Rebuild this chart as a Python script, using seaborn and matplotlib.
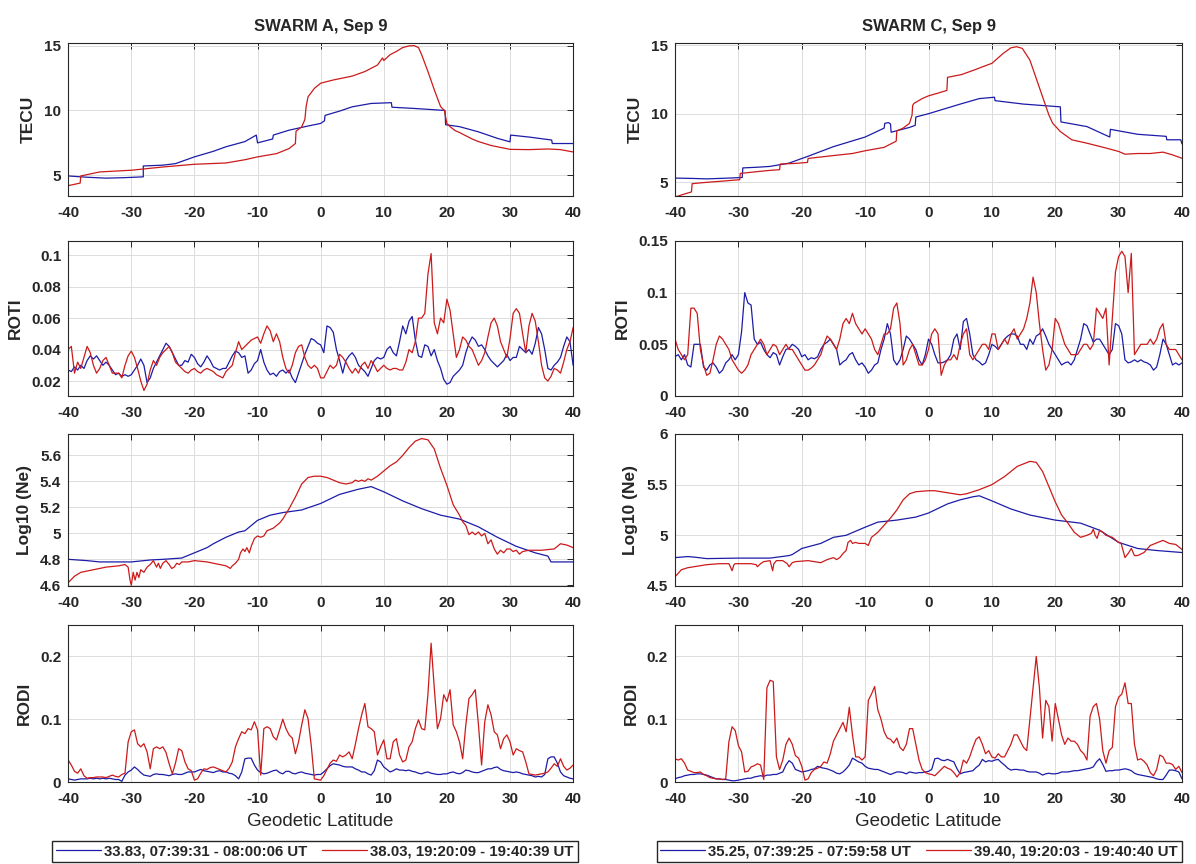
import numpy as np
import pandas as pd
import matplotlib
matplotlib.use("Agg")
import matplotlib.pyplot as plt
import seaborn as sns
from matplotlib.ticker import FuncFormatter

# ---------------------------------------------------------------- data
# common latitude grid for ROTI / RODI (0.5 deg steps)
grid_lat = np.arange(-40, 40.25, 0.5)

# --- TEC (SWARM A)
tec_a_blue_lat = [-40, -37, -34, -31, -28.1, -28.1, -25, -23, -20, -17, -15, -12,
                  -10.2, -10.0, -8.0, -7.6, -7.5, -5, -2, 0, 0.6, 0.7, 3, 5, 8,
                  11.2, 11.3, 15, 19.7, 19.8, 22, 25, 28, 30.0, 30.1, 33, 36.6, 36.7, 40]
tec_a_blue = [4.95, 4.85, 4.78, 4.82, 4.88, 5.72, 5.78, 5.9, 6.42, 6.85, 7.2, 7.6,
              8.1, 7.5, 7.75, 7.8, 8.1, 8.48, 8.8, 9.0, 9.2, 9.62, 9.95, 10.28, 10.54,
              10.6, 10.25, 10.15, 10.0, 8.9, 8.75, 8.35, 7.85, 7.58, 8.1, 7.95, 7.72, 7.45, 7.45]
tec_a_red_lat = [-40, -38.1, -38.0, -35, -30, -25, -20, -15, -12, -10,
                 -7, -5, -4.0, -3.9, -3, -2.5, -2.3, -2.0, -1, 0,
                 2, 5, 7, 9, 9.8, 10.0, 11, 12, 13, 14,
                 14.8, 15.5, 16, 17, 17.5, 18, 19, 19.6, 20, 20.5,
                 21.3, 22, 24, 25, 27, 30, 33, 36, 38, 40]
tec_a_red = [4.2, 4.4, 4.95, 5.26, 5.39, 5.64, 5.85, 5.95, 6.2, 6.42,
             6.67, 7.06, 7.45, 8.4, 8.74, 9.3, 10.3, 11.05, 11.7, 12.1,
             12.35, 12.65, 13.0, 13.5, 14.05, 13.85, 14.3, 14.55, 14.85, 14.98,
             15.0, 14.85, 14.3, 13.0, 12.3, 11.6, 10.3, 10.0, 9.0, 8.75,
             8.45, 8.3, 7.8, 7.6, 7.3, 7.0, 6.98, 7.03, 6.98, 6.8]

# --- TEC (SWARM C)
tec_c_blue_lat = [-40, -37, -35, -32, -29.4, -29.3, -27, -25, -22, -19,
                  -15, -10, -7.0, -6.9, -6.3, -6.0, -5.9, -3, -2.1, -2.0,
                  0, 2.5, 5, 8, 10.4, 10.5, 15, 20.8, 20.9, 25,
                  28.6, 28.7, 33, 37.5, 37.6, 39.8, 40]
tec_c_blue = [5.31, 5.28, 5.25, 5.3, 5.35, 6.05, 6.1, 6.16, 6.4, 6.9,
              7.6, 8.3, 8.95, 9.3, 9.35, 9.25, 8.65, 9.0, 9.15, 9.76,
              10.0, 10.35, 10.7, 11.1, 11.2, 10.95, 10.7, 10.5, 9.4, 9.06,
              8.3, 8.86, 8.5, 8.35, 8.1, 8.1, 7.8]
tec_c_red_lat = [-40, -38.5, -37.4, -37.3, -35, -33, -29.8, -29.7, -27, -25,
                 -23.5, -23.4, -21, -19.1, -19.0, -15, -12, -10, -7, -5.1,
                 -5.0, -4, -3, -2.6, -2.5, -2.3, -1, 0, 1.5, 2.9,
                 3.0, 5.2, 7.3, 9, 10, 11.8, 13, 13.9, 14.8, 16,
                 17.8, 19, 19.6, 20.8, 22.6, 25, 28, 30, 31, 33,
                 35, 37, 38.5, 40]
tec_c_red = [3.93, 4.15, 4.3, 4.9, 5.0, 5.07, 5.19, 5.65, 5.78, 5.87,
             5.92, 6.33, 6.38, 6.45, 6.74, 6.95, 7.1, 7.3, 7.55, 8.0,
             8.75, 8.95, 9.3, 9.9, 10.6, 10.75, 11.1, 11.3, 11.5, 11.7,
             12.65, 12.85, 13.2, 13.5, 13.67, 14.4, 14.8, 14.88, 14.76, 13.9,
             11.5, 9.9, 9.3, 8.7, 8.1, 7.85, 7.5, 7.25, 7.05, 7.1,
             7.1, 7.2, 7.0, 6.75]

# --- ROTI (on grid_lat)
roti_a_blue = [.027, .026, .029, .027, .030, .028, .033, .036, .034, .036,
               .033, .030, .032, .030, .027, .024, .025, .023, .024, .023,
               .024, .027, .030, .034, .030, .019, .022, .028, .032, .036,
               .040, .044, .042, .038, .034, .030, .030, .033, .032, .037,
               .035, .031, .029, .032, .036, .033, .029, .028, .027, .028,
               .028, .032, .036, .039, .038, .035, .036, .025, .027, .031,
               .033, .040, .032, .027, .024, .025, .023, .026, .027, .025,
               .027, .022, .019, .025, .031, .037, .042, .047, .046, .044,
               .043, .038, .055, .054, .051, .040, .033, .025, .033, .036,
               .038, .035, .030, .028, .026, .023, .028, .033, .035, .034,
               .035, .040, .042, .038, .036, .045, .055, .050, .058, .061,
               .046, .036, .035, .043, .042, .036, .040, .033, .028, .021,
               .018, .019, .023, .025, .027, .030, .038, .044, .048, .046,
               .042, .043, .040, .036, .033, .031, .029, .031, .033, .037,
               .033, .035, .035, .042, .040, .038, .040, .037, .044, .054,
               .050, .040, .028, .027, .030, .032, .035, .042, .048, .045,
               .030]
roti_a_red = [.040, .042, .025, .032, .028, .035, .042, .038, .030, .025,
              .028, .033, .035, .030, .025, .025, .025, .022, .030, .036,
              .039, .035, .028, .020, .014, .018, .027, .033, .030, .035,
              .038, .040, .042, .038, .032, .030, .028, .026, .025, .027,
              .028, .026, .025, .027, .028, .027, .026, .024, .023, .022,
              .026, .028, .030, .038, .045, .040, .042, .044, .046, .047,
              .048, .044, .050, .055, .052, .045, .050, .045, .035, .028,
              .025, .030, .038, .042, .043, .035, .030, .028, .030, .028,
              .022, .022, .026, .030, .028, .030, .037, .035, .032, .028,
              .025, .028, .025, .030, .032, .028, .033, .030, .026, .028,
              .030, .028, .027, .028, .028, .027, .027, .032, .040, .038,
              .045, .060, .060, .063, .088, .101, .057, .050, .060, .057,
              .072, .065, .050, .035, .040, .048, .046, .042, .040, .035,
              .030, .033, .038, .048, .057, .060, .055, .045, .040, .035,
              .047, .063, .066, .063, .050, .038, .055, .063, .058, .045,
              .030, .022, .020, .023, .028, .027, .025, .032, .040, .045,
              .054]
roti_c_blue = [.038, .040, .035, .040, .030, .028, .050, .050, .050, .028,
               .025, .030, .032, .028, .022, .025, .032, .035, .040, .035,
               .040, .062, .100, .090, .088, .055, .050, .052, .045, .040,
               .037, .042, .040, .030, .038, .045, .046, .050, .048, .045,
               .038, .040, .035, .037, .036, .038, .045, .050, .052, .055,
               .050, .045, .030, .033, .035, .040, .042, .035, .030, .032,
               .028, .022, .025, .030, .032, .045, .055, .070, .060, .035,
               .030, .035, .045, .058, .055, .050, .045, .035, .030, .040,
               .055, .050, .040, .032, .032, .033, .035, .040, .055, .060,
               .045, .072, .075, .060, .040, .035, .033, .030, .032, .040,
               .050, .048, .045, .050, .055, .058, .060, .060, .058, .050,
               .050, .045, .055, .050, .058, .060, .065, .058, .050, .045,
               .040, .035, .030, .032, .033, .030, .035, .045, .055, .070,
               .068, .060, .052, .055, .055, .050, .045, .040, .045, .070,
               .068, .060, .035, .032, .033, .035, .033, .035, .033, .032,
               .030, .025, .028, .040, .055, .050, .040, .030, .032, .030,
               .032]
roti_c_red = [.055, .045, .040, .035, .040, .085, .085, .080, .045, .030,
              .020, .022, .035, .050, .058, .055, .050, .045, .035, .030,
              .025, .022, .025, .030, .040, .045, .050, .055, .050, .040,
              .045, .050, .048, .040, .045, .050, .045, .045, .040, .035,
              .030, .025, .025, .027, .030, .035, .040, .050, .058, .055,
              .050, .045, .055, .070, .075, .070, .080, .070, .065, .060,
              .065, .060, .055, .045, .040, .050, .060, .060, .065, .085,
              .090, .070, .030, .035, .045, .050, .040, .030, .030, .035,
              .045, .060, .065, .060, .020, .030, .035, .035, .040, .035,
              .050, .060, .065, .040, .035, .040, .045, .050, .050, .045,
              .060, .060, .045, .050, .055, .050, .060, .065, .055, .060,
              .065, .075, .090, .115, .100, .070, .045, .025, .030, .045,
              .075, .070, .060, .050, .045, .040, .040, .040, .045, .050,
              .050, .045, .050, .085, .080, .075, .085, .030, .075, .120,
              .135, .140, .135, .100, .138, .040, .045, .050, .050, .050,
              .055, .050, .055, .065, .070, .050, .045, .045, .045, .040,
              .035]

# --- log10(Ne)
ne_a_blue_lat = [-40, -37, -35, -32, -30, -27, -25, -22, -20, -18,
                 -17, -15, -13, -12, -10, -8, -6, -3, 0, 3,
                 6, 8, 10, 13, 16, 19, 22, 25, 28, 31,
                 34, 36, 36.5, 38, 40]
ne_a_blue = [4.80, 4.79, 4.78, 4.78, 4.78, 4.795, 4.80, 4.81, 4.85, 4.89,
             4.92, 4.97, 5.01, 5.02, 5.10, 5.14, 5.16, 5.18, 5.23, 5.30,
             5.34, 5.36, 5.32, 5.25, 5.19, 5.14, 5.11, 5.05, 4.97, 4.90,
             4.85, 4.825, 4.78, 4.78, 4.78]
ne_a_red_lat = [-40, -39, -38, -36, -34, -32, -31, -30.5, -30.2, -30.0,
                -29.7, -29.4, -29.1, -28.8, -28.5, -28, -27.5, -27, -26.5, -26,
                -25.7, -25.4, -25, -24.5, -24, -23.6, -23.2, -22.8, -22.4, -22,
                -21, -20, -18, -17, -15, -14.3, -14, -13.5, -13, -12.7,
                -12.3, -12, -11.7, -11.3, -11, -10.5, -10, -9.5, -9, -8.5,
                -8, -7.5, -7, -6.5, -6, -5, -4, -3, -2, -1,
                0, 1, 2, 3, 4, 5, 5.5, 6, 6.5, 7,
                7.5, 8, 9, 10, 11, 12, 13, 14, 15, 16,
                17, 18, 19, 20, 21, 22, 22.5, 23, 23.5, 24,
                24.5, 25, 25.5, 26, 26.5, 27, 27.5, 28, 28.5, 29,
                29.5, 30, 30.5, 31, 31.5, 32, 33, 35, 37, 38,
                39, 40]
ne_a_red = [4.62, 4.67, 4.70, 4.72, 4.74, 4.75, 4.76, 4.74, 4.64, 4.60,
            4.70, 4.64, 4.70, 4.66, 4.72, 4.70, 4.74, 4.76, 4.79, 4.74,
            4.77, 4.73, 4.77, 4.79, 4.76, 4.73, 4.74, 4.77, 4.76, 4.78,
            4.78, 4.79, 4.78, 4.77, 4.75, 4.73, 4.75, 4.77, 4.80, 4.85,
            4.88, 4.86, 4.89, 4.85, 4.90, 4.96, 4.98, 4.97, 4.98, 5.02,
            5.03, 5.04, 5.06, 5.08, 5.11, 5.19, 5.28, 5.38, 5.43, 5.44,
            5.44, 5.43, 5.41, 5.39, 5.38, 5.39, 5.41, 5.40, 5.41, 5.40,
            5.42, 5.41, 5.44, 5.48, 5.52, 5.55, 5.60, 5.66, 5.71, 5.73,
            5.72, 5.65, 5.50, 5.37, 5.22, 5.14, 5.09, 5.06, 4.99, 5.01,
            4.99, 5.01, 4.98, 5.00, 4.92, 4.95, 4.88, 4.84, 4.87, 4.85,
            4.88, 4.88, 4.86, 4.87, 4.84, 4.86, 4.87, 4.87, 4.88, 4.92,
            4.91, 4.89]
ne_c_blue_lat = [-40, -38, -37, -35, -30, -25, -22, -21.5, -20, -17,
                 -15, -13, -10, -8, -5, -2, 0, 1, 3, 5,
                 7, 8, 10, 13, 16, 20, 24, 27, 30, 33,
                 36, 40]
ne_c_blue = [4.78, 4.79, 4.785, 4.77, 4.775, 4.775, 4.80, 4.81, 4.87, 4.92,
             4.98, 5.00, 5.08, 5.13, 5.15, 5.18, 5.22, 5.25, 5.31, 5.35,
             5.38, 5.39, 5.34, 5.26, 5.20, 5.15, 5.12, 5.05, 4.93, 4.87,
             4.85, 4.83]
ne_c_red_lat = [-40, -39, -38, -35, -33, -31.5, -31.2, -31, -30.7, -30.5,
                -28, -27.2, -27, -26.5, -26, -25, -24.8, -24.6, -24.4, -24,
                -23, -22.3, -22, -21.5, -21, -19, -17, -16, -15, -14.5,
                -14, -13.5, -13, -12.7, -12.3, -12, -11.5, -11, -10, -9.5,
                -9, -8, -7, -6, -5, -4, -3, -2, 0, 1,
                2, 4, 5, 6, 8, 10, 12, 14, 16, 17,
                18, 19, 20, 21, 22, 23, 24, 25, 25.7, 26,
                26.3, 26.6, 27, 27.5, 28, 29, 30, 30.4, 30.7, 31,
                31.5, 32, 32.5, 33, 34, 35, 37, 38, 39, 40]
ne_c_red = [4.59, 4.66, 4.68, 4.71, 4.72, 4.72, 4.68, 4.65, 4.71, 4.72,
            4.72, 4.71, 4.69, 4.72, 4.74, 4.75, 4.70, 4.65, 4.72, 4.75,
            4.75, 4.72, 4.69, 4.73, 4.74, 4.75, 4.73, 4.76, 4.78, 4.76,
            4.78, 4.82, 4.85, 4.93, 4.95, 4.92, 4.93, 4.92, 4.92, 4.90,
            4.98, 5.03, 5.10, 5.17, 5.25, 5.35, 5.41, 5.43, 5.44, 5.44,
            5.43, 5.41, 5.40, 5.41, 5.45, 5.50, 5.58, 5.68, 5.73, 5.72,
            5.63, 5.48, 5.33, 5.20, 5.12, 5.03, 4.98, 5.00, 5.02, 5.06,
            5.00, 4.97, 5.05, 5.03, 5.00, 4.98, 4.93, 4.92, 4.85, 4.78,
            4.82, 4.87, 4.80, 4.80, 4.83, 4.90, 4.95, 4.92, 4.91, 4.86]

# --- RODI (on grid_lat)
rodi_a_blue = [.005, .004, .003, .004, .005, .005, .005, .006, .005, .006,
               .005, .006, .005, .006, .005, .004, .004, .001, .011, .016,
               .019, .024, .020, .015, .011, .010, .009, .012, .013, .012,
               .012, .011, .010, .012, .013, .012, .012, .014, .016, .016,
               .016, .018, .020, .018, .017, .016, .015, .017, .018, .016,
               .016, .014, .013, .010, .005, .016, .037, .038, .038, .027,
               .019, .015, .013, .014, .016, .018, .019, .015, .013, .017,
               .017, .014, .013, .015, .016, .014, .013, .012, .011, .012,
               .012, .016, .021, .026, .029, .028, .027, .025, .024, .024,
               .024, .021, .019, .016, .016, .013, .011, .018, .035, .032,
               .024, .020, .016, .018, .021, .019, .019, .018, .019, .017,
               .016, .014, .013, .015, .016, .014, .013, .012, .012, .013,
               .013, .015, .016, .014, .013, .015, .019, .018, .016, .015,
               .015, .017, .019, .021, .021, .023, .024, .020, .018, .017,
               .016, .015, .016, .015, .013, .012, .011, .010, .008, .009,
               .008, .012, .037, .040, .040, .030, .016, .010, .008, .006,
               .005]
rodi_a_red = [.035, .027, .017, .014, .021, .010, .006, .007, .007, .008,
              .008, .008, .007, .009, .011, .009, .008, .012, .014, .064,
              .080, .083, .061, .056, .061, .048, .021, .053, .056, .053,
              .056, .047, .029, .013, .030, .053, .050, .032, .021, .018,
              .003, .005, .014, .021, .020, .023, .024, .022, .020, .018,
              .016, .022, .032, .056, .069, .080, .077, .085, .083, .096,
              .083, .011, .085, .088, .085, .072, .067, .083, .100, .085,
              .075, .070, .045, .064, .091, .115, .101, .059, .005, .004,
              .003, .010, .020, .030, .035, .033, .043, .040, .043, .048,
              .037, .060, .085, .107, .125, .088, .085, .080, .043, .056,
              .067, .037, .037, .064, .069, .043, .032, .035, .056, .064,
              .085, .099, .085, .083, .140, .221, .150, .085, .101, .139,
              .128, .147, .091, .080, .064, .037, .091, .133, .139, .147,
              .091, .027, .096, .123, .107, .080, .075, .053, .069, .075,
              .064, .043, .053, .050, .048, .032, .013, .012, .011, .012,
              .013, .014, .016, .022, .029, .025, .037, .025, .019, .022,
              .027]
rodi_c_blue = [.005, .007, .008, .010, .011, .012, .012, .013, .013, .012,
               .011, .009, .007, .005, .005, .004, .004, .003, .002, .002,
               .003, .004, .005, .006, .006, .008, .009, .010, .009, .011,
               .011, .012, .012, .014, .016, .027, .034, .030, .020, .018,
               .016, .017, .018, .020, .021, .025, .023, .022, .021, .019,
               .017, .014, .013, .016, .021, .027, .038, .035, .032, .030,
               .025, .022, .021, .020, .020, .018, .016, .014, .012, .014,
               .016, .016, .015, .013, .016, .015, .014, .015, .015, .016,
               .017, .020, .037, .038, .035, .034, .036, .034, .032, .021,
               .013, .015, .016, .017, .018, .023, .027, .036, .032, .034,
               .033, .035, .036, .031, .027, .022, .019, .020, .020, .019,
               .019, .017, .016, .016, .016, .014, .011, .013, .014, .013,
               .013, .014, .016, .016, .016, .017, .018, .018, .019, .020,
               .021, .022, .024, .032, .037, .028, .017, .018, .018, .019,
               .019, .020, .021, .020, .018, .014, .012, .011, .010, .009,
               .008, .007, .005, .004, .004, .011, .019, .019, .018, .016,
               .005]
rodi_c_red = [.037, .035, .037, .030, .019, .017, .015, .015, .016, .012,
              .010, .007, .006, .005, .005, .004, .005, .064, .088, .082,
              .058, .048, .016, .017, .024, .026, .029, .027, .004, .150,
              .162, .160, .040, .020, .035, .060, .070, .060, .042, .038,
              .025, .003, .005, .015, .020, .022, .025, .032, .030, .045,
              .065, .075, .085, .095, .080, .119, .075, .040, .040, .035,
              .040, .130, .140, .152, .115, .100, .080, .070, .068, .062,
              .070, .055, .050, .060, .085, .085, .060, .035, .020, .015,
              .013, .012, .010, .015, .020, .025, .022, .020, .015, .008,
              .015, .035, .030, .040, .055, .068, .072, .060, .045, .050,
              .040, .038, .045, .040, .040, .050, .060, .075, .075, .065,
              .055, .050, .100, .150, .200, .150, .070, .130, .120, .065,
              .125, .100, .075, .060, .070, .065, .065, .060, .050, .045,
              .035, .105, .120, .125, .100, .050, .030, .050, .055, .120,
              .135, .140, .158, .125, .125, .060, .035, .037, .033, .027,
              .015, .010, .020, .043, .040, .030, .030, .028, .020, .025,
              .015]

titles = ["SWARM A, Sep 9", "SWARM C, Sep 9"]
row_labels = ["TECU", "ROTI", "Log10 (Ne)", "RODI"]
legend_a = ["33.83, 07:39:31 - 08:00:06 UT", "38.03, 19:20:09 - 19:40:39 UT"]
legend_c = ["35.25, 07:39:25 - 07:59:58 UT", "39.40, 19:20:03 - 19:40:40 UT"]
x_ticks = [-40, -30, -20, -10, 0, 10, 20, 30, 40]

# ---------------------------------------------------------------- style
sns.set_style("white")
plt.rcParams["font.family"] = ["Liberation Sans", "DejaVu Sans"]
plt.rcParams["axes.unicode_minus"] = False

BLUE = "#1c1ca8"
RED = "#cc1a1a"
INK = "#262626"

fig = plt.figure(figsize=(11.96, 8.64), dpi=100)

col_x = [(0.057, 0.4222), (0.5644, 0.4239)]
row_y = [(0.7731, 0.1771), (0.5417, 0.1794), (0.3218, 0.1759), (0.0949, 0.1817)]

panels = [
    # (blue_x, blue_y, red_x, red_y, ylim, yticks) per column
    [
        (tec_a_blue_lat, tec_a_blue, tec_a_red_lat, tec_a_red, (3.4, 15.2), [5, 10, 15]),
        (grid_lat, roti_a_blue, grid_lat, roti_a_red, (0.0105, 0.109), [0.02, 0.04, 0.06, 0.08, 0.1]),
        (ne_a_blue_lat, ne_a_blue, ne_a_red_lat, ne_a_red, (4.595, 5.765), [4.6, 4.8, 5, 5.2, 5.4, 5.6]),
        (grid_lat, rodi_a_blue, grid_lat, rodi_a_red, (0, 0.25), [0, 0.1, 0.2]),
    ],
    [
        (tec_c_blue_lat, tec_c_blue, tec_c_red_lat, tec_c_red, (4.0, 15.15), [5, 10, 15]),
        (grid_lat, roti_c_blue, grid_lat, roti_c_red, (0, 0.15), [0, 0.05, 0.1, 0.15]),
        (ne_c_blue_lat, ne_c_blue, ne_c_red_lat, ne_c_red, (4.5, 6.0), [4.5, 5, 5.5, 6]),
        (grid_lat, rodi_c_blue, grid_lat, rodi_c_red, (0, 0.25), [0, 0.1, 0.2]),
    ],
]

fmt = FuncFormatter(lambda v, p: f"{v:g}")

for c in range(2):
    for r in range(4):
        bx, by, rx, ry, ylim, yticks = panels[c][r]
        ax = fig.add_axes([col_x[c][0], row_y[r][0], col_x[c][1], row_y[r][1]])
        d_blue = pd.DataFrame({"lat": np.asarray(bx, float), "val": np.asarray(by, float)})
        d_red = pd.DataFrame({"lat": np.asarray(rx, float), "val": np.asarray(ry, float)})
        sns.lineplot(data=d_blue, x="lat", y="val", ax=ax, color=BLUE, lw=0.9,
                     estimator=None, sort=False, legend=False)
        sns.lineplot(data=d_red, x="lat", y="val", ax=ax, color=RED, lw=0.9,
                     estimator=None, sort=False, legend=False)
        ax.set_xlim(-40, 40)
        ax.set_ylim(*ylim)
        ax.set_xticks(x_ticks)
        ax.set_yticks(yticks)
        ax.xaxis.set_major_formatter(fmt)
        ax.yaxis.set_major_formatter(fmt)
        ax.grid(True, color="#dcdcdc", lw=0.7)
        ax.set_axisbelow(True)
        for s in ax.spines.values():
            s.set_color(INK)
            s.set_linewidth(0.8)
        ax.tick_params(direction="in", length=4, width=0.7, top=True, right=True,
                       colors=INK, labelsize=11)
        ax.tick_params(axis="x", pad=7)
        ax.tick_params(axis="y", pad=5)
        for lab in ax.get_xticklabels() + ax.get_yticklabels():
            lab.set_fontweight("bold")
        ax.set_ylabel(row_labels[r], fontsize=12.5, fontweight="bold", color=INK, labelpad=6)
        if r == 0:
            ax.set_title(titles[c], fontsize=12, fontweight="bold", color=INK, pad=9)
        if r == 3:
            ax.set_xlabel("Geodetic Latitude", fontsize=13.5, color=INK, labelpad=5)
            labels = legend_a if c == 0 else legend_c
            cx = 0.2634 if c == 0 else 0.7684
            fig.legend(ax.get_lines()[:2], labels, loc="center", bbox_to_anchor=(cx, 0.0145),
                       ncol=2, frameon=True, fancybox=False, edgecolor=INK,
                       framealpha=1, prop={"weight": "bold", "size": 10.8},
                       handlelength=3.0, handletextpad=0.2, columnspacing=1.0,
                       borderpad=0.25, borderaxespad=0)
        else:
            ax.set_xlabel("")

fig.savefig("out.png", dpi=100)
